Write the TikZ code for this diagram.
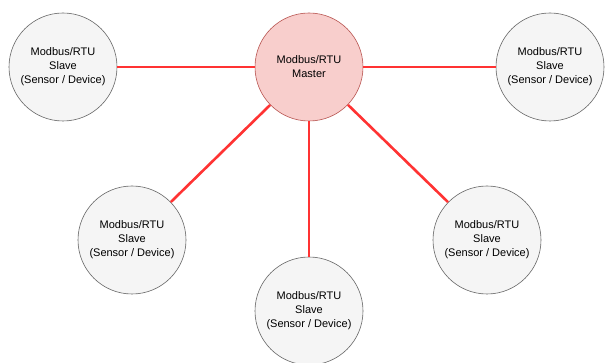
\documentclass[tikz,border=0pt]{standalone}
\usepackage{fontspec}
\setmainfont{Liberation Sans}
\definecolor{masterfill}{HTML}{F8CECC}
\definecolor{masterline}{HTML}{B85450}
\definecolor{slavefill}{HTML}{F5F5F5}
\definecolor{slaveline}{HTML}{666666}
\definecolor{linkred}{HTML}{FF3333}
\tikzset{
  unit/.style={circle, minimum size=108pt, inner sep=0pt, align=center,
    font=\fontsize{11pt}{14pt}\selectfont, line width=0.6pt},
  master/.style={unit, draw=masterline, fill=masterfill},
  slave/.style={unit, draw=slaveline, fill=slavefill},
  link/.style={draw=linkred, line width=2.6pt}
}
\begin{document}
\begin{tikzpicture}[x=1pt,y=-1pt]
\useasboundingbox (0,0) rectangle (605,363);
\node[master] (m) at (309,67) {Modbus/RTU\\Master};
\node[slave] (tl) at (63,67) {Modbus/RTU\\Slave\\(Sensor / Device)};
\node[slave] (tr) at (550,67) {Modbus/RTU\\Slave\\(Sensor / Device)};
\node[slave] (ll) at (132,240) {Modbus/RTU\\Slave\\(Sensor / Device)};
\node[slave] (bt) at (309,311) {Modbus/RTU\\Slave\\(Sensor / Device)};
\node[slave] (lr) at (487,240) {Modbus/RTU\\Slave\\(Sensor / Device)};
\draw[link] (m) -- (tl);
\draw[link] (m) -- (tr);
\draw[link] (m) -- (ll);
\draw[link] (m) -- (bt);
\draw[link] (m) -- (lr);
\end{tikzpicture}
\end{document}
